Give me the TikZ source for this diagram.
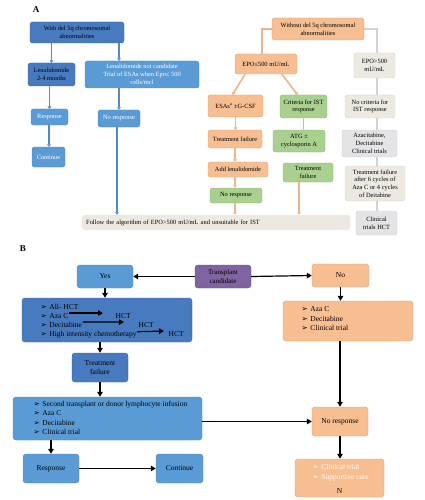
\documentclass[tikz,border=0pt]{standalone}
\usepackage{fontspec}
\setmainfont{Liberation Serif}
\newfontfamily\symfont{DejaVu Sans}
\usetikzlibrary{arrows.meta}

\definecolor{darkblue}{RGB}{72,122,192}
\definecolor{lightblue}{RGB}{91,155,213}
\definecolor{peach}{RGB}{247,190,146}
\definecolor{leafgreen}{RGB}{169,208,142}
\definecolor{lightgrey}{RGB}{228,228,230}
\definecolor{beige}{RGB}{236,234,224}
\definecolor{candviolet}{RGB}{128,100,162}

\newcommand{\bul}{{\symfont\char"27A2}\hspace{2.5pt}}

\begin{document}
\begin{tikzpicture}[x=1pt, y=-1pt,
  abox/.style={rounded corners=2.5pt, align=center, inner sep=1pt, line width=0.4pt,
    font=\fontsize{6.4}{7.8}\selectfont},
  bbox/.style={rounded corners=3pt, align=center, inner sep=1pt, line width=0.4pt,
    font=\fontsize{7.5}{9.3}\selectfont},
  dblue/.style={fill=darkblue, draw=darkblue!80!black},
  lblue/.style={fill=lightblue, draw=lightblue!85!black},
  orng/.style={fill=peach, draw=peach!85!black},
  grn/.style={fill=leafgreen, draw=leafgreen!85!black},
  gry/.style={fill=lightgrey, draw=lightgrey!90!black},
  bge/.style={fill=beige, draw=beige!92!black},
  purp/.style={fill=candviolet, draw=candviolet!80!black},
  item/.style={anchor=base west, inner sep=0.5pt, font=\fontsize{7.5}{9.3}\selectfont},
  blueline/.style={draw=lightblue!90!black, line width=1.6pt, -{Triangle[length=2.5pt,width=4pt]}},
  orangeline/.style={draw=peach!95!black, line width=1.6pt, -{Triangle[length=2.5pt,width=4pt]}},
  greyline/.style={draw=lightgrey!92!black, line width=1.6pt},
  barrow/.style={line width=1.2pt, -{Triangle[length=5pt,width=5.5pt]}}]

\useasboundingbox (0,0) rectangle (424,500);

\node[font=\bfseries\fontsize{9}{10}\selectfont] (lbla) at (36,10) {A};

\node[abox, dblue, minimum width=94pt, minimum height=21pt] (del5q) at (77,32.5) {With del 5q chromosomal\\abnormalities};
\node[abox, dblue, minimum width=47pt, minimum height=23pt] (lena) at (51.5,74.5) {Lenalidomide\\2-4 months};
\node[abox, lblue, text=white, minimum width=114pt, minimum height=27pt] (lenanot) at (142,74.5) {Lenalidomide not candidate\\Trial of ESAs when Epo≤ 500\\cells/mcl};
\node[abox, lblue, text=white, minimum width=37pt, minimum height=16pt] (respa) at (49.5,117) {Response};
\node[abox, lblue, text=white, minimum width=42pt, minimum height=17pt] (norespa) at (119,118.5) {No response};
\node[abox, lblue, text=white, minimum width=33pt, minimum height=20pt] (conta) at (48.5,157) {Continue};
\node[abox, bge, draw=none, anchor=west, text width=260pt, align=left, minimum height=15pt, inner sep=4pt] (follow) at (82,222.5) {Follow the algorithm of EPO>500 mU/mL and unsuitable for IST};

\node[abox, orng, minimum width=92pt, minimum height=22pt] (wodel) at (318,29) {Without del 5q chromosomal\\abnormalities};
\node[abox, orng, minimum width=62pt, minimum height=20pt] (epole) at (266,64) {EPO≤500 mU/mL};
\node[abox, bge, minimum width=41pt, minimum height=25pt] (epogt) at (374.5,65.5) {EPO>500\\mU/mL};
\node[abox, orng, minimum width=55pt, minimum height=22pt] (esas) at (235.5,106) {ESAs\textsuperscript{a} ±G-CSF};
\node[abox, grn, minimum width=47pt, minimum height=23pt] (crit) at (303.5,106.5) {Criteria for IST\\response};
\node[abox, bge, minimum width=50pt, minimum height=23pt] (nocrit) at (370,106.5) {No criteria for\\IST response};
\node[abox, orng, minimum width=54pt, minimum height=18pt] (tfo) at (235,139) {Treatment failure};
\node[abox, orng, minimum width=60pt, minimum height=15pt] (addlen) at (238,169.5) {Add lenalidomide};
\node[abox, grn, minimum width=52pt, minimum height=15pt] (nroa) at (236,195.5) {No response};
\node[abox, grn, minimum width=52pt, minimum height=22pt] (atg) at (299,141) {ATG ±\\cyclosporin A};
\node[abox, grn, minimum width=50pt, minimum height=19pt] (tfg) at (308,172.5) {Treatment\\failure};
\node[abox, gry, minimum width=55pt, minimum height=27pt] (azac) at (369.5,143.5) {Azacitabine,\\Decitabine\\Clinical trials};
\node[abox, bge, minimum width=60pt, minimum height=35pt] (tfaza) at (375,183.5) {Treatment failure\\after 6 cycles of\\Aza C or 4 cycles\\of Deitabine};
\node[abox, gry, minimum width=41pt, minimum height=24pt] (clinhct) at (376.5,223) {Clinical\\trials HCT};

\draw[blueline] (lena.north |- del5q.south) -- (lena.north);
\draw[blueline] (norespa.north |- del5q.south) -- (norespa.north |- lenanot.north);
\draw[blueline] ([xshift=-2pt]lena.south) -- ([xshift=-2pt]lena.south |- respa.north);
\draw[blueline] ([xshift=-0.5pt]respa.south) -- ([xshift=-0.5pt]respa.south |- conta.north);
\draw[blueline] (norespa.north |- lenanot.south) -- (norespa.north);
\draw[blueline] ([xshift=-2pt]norespa.south) -- ([xshift=-2pt]norespa.south |- follow.north);

\draw[orangeline, -] (wodel.west) -| ([xshift=-4pt]epole.north);
\draw[greyline] (wodel.east) -| ([xshift=2.5pt]epogt.north);
\draw[orangeline] ([xshift=-21pt]epole.south) -- ([xshift=-3pt]esas.north);
\draw[orangeline] ([xshift=16pt]epole.south) -- ([xshift=-6pt]crit.north);
\draw[orangeline] (esas.south) -- (esas.south |- tfo.north);
\draw[orangeline] (tfo.south) -- (tfo.south |- addlen.north);
\draw[orangeline] (tfo.south |- addlen.south) -- (tfo.south |- nroa.north);
\draw[orangeline] (tfo.south |- nroa.south) -- (tfo.south |- follow.north);
\draw[orangeline, -] (crit.south) -- (crit.south |- atg.north);
\draw[orangeline] ([xshift=-9pt]tfg.south) -- ([xshift=-9pt]tfg.south |- follow.north);
\draw[greyline] ([xshift=2.5pt]epogt.south) -- ([xshift=2.5pt]epogt.south |- nocrit.north);
\draw[greyline] ([xshift=7pt]nocrit.south) -- ([xshift=7pt]nocrit.south |- azac.north);
\draw[greyline] ([xshift=7pt]nocrit.south |- azac.south) -- ([xshift=7pt]nocrit.south |- tfaza.north);
\draw[greyline] ([xshift=7pt]nocrit.south |- tfaza.south) -- ([xshift=7pt]nocrit.south |- clinhct.north);

\node[font=\bfseries\fontsize{9}{10}\selectfont] (lblb) at (23,249) {B};

\node[bbox, lblue, minimum width=56pt, minimum height=23pt] (yes) at (105,276.5) {Yes};
\node[bbox, purp, minimum width=56pt, minimum height=23pt, font=\fontsize{7}{8.6}\selectfont] (trans) at (223,276.5) {Transplant\\candidate};
\node[bbox, orng, minimum width=57pt, minimum height=23pt] (no) at (340.5,275.5) {No};
\node[bbox, dblue, minimum width=170pt, minimum height=44pt] (yeslist) at (107,320) {};
\node[bbox, dblue, minimum width=56pt, minimum height=29pt] (tfb) at (100,367.5) {Treatment\\failure};
\node[bbox, lblue, minimum width=189pt, minimum height=43pt] (second) at (107.5,418.5) {};
\node[bbox, lblue, minimum width=56pt, minimum height=29pt] (respb) at (51,468.5) {Response};
\node[bbox, lblue, minimum width=47pt, minimum height=29pt] (contb) at (179.5,468.5) {Continue};
\node[bbox, orng, minimum width=130pt, minimum height=40pt] (nolist) at (348,321) {};
\node[bbox, orng, minimum width=56pt, minimum height=29pt] (noresp) at (340,421.5) {No response};
\node[bbox, orng, minimum width=89pt, minimum height=38pt] (last) at (339.5,478) {};

\node[item] (allhct) at (40,309) {\bul All- HCT};
\node[item] (azab) at (40,318) {\bul Aza C};
\node[item] (decib) at (40,327) {\bul Decitabine};
\node[item] (chemo) at (40,336) {\bul High intensity chemotherapy};
\node[item] (hcta) at (115,318) {HCT};
\node[item] (hctb) at (138,327) {HCT};
\node[item] (hctc) at (168,336) {HCT};

\node[item] (dli) at (33,406) {\bul Second transplant or donor lymphocyte infusion};
\node[item] (azas) at (33,415) {\bul Aza C};
\node[item] (decis) at (33,425) {\bul Decitabine};
\node[item] (clins) at (33,434) {\bul Clinical trial};

\node[item] (azan) at (301,311) {\bul Aza C};
\node[item] (decin) at (301,321) {\bul Decitabine};
\node[item] (clinn) at (301,330) {\bul Clinical trial};

\node[item, text=white] (clinl) at (312,469) {\bul Clinical trial};
\node[item, text=white] (suppl) at (312,479) {\bul Supportive care};
\node[font=\fontsize{7.5}{9}\selectfont] (nlast) at (339.5,491) {N};

\draw[barrow] ([yshift=2.5pt]azab.east) -- ([xshift=-12pt,yshift=2.5pt]hcta.west);
\draw[barrow] ([yshift=2.5pt]decib.east) -- ([xshift=-14pt,yshift=2.5pt]hctb.west);
\draw[barrow] ([yshift=2.5pt]chemo.east) -- ([xshift=-4pt,yshift=2.5pt]hctc.west);

\draw[barrow] (trans.west) -- (yes.east);
\draw[barrow] (trans.east) -- (no.west);
\draw[barrow] (yes.south) -- (yes.south |- yeslist.north);
\draw[barrow] (tfb.north |- yeslist.south) -- (tfb.north);
\draw[barrow] (tfb.south) -- (tfb.south |- second.north);
\draw[barrow] (respb.north |- second.south) -- (respb.north);
\draw[barrow] (respb.east) -- (contb.west);
\draw[barrow] (second.east |- noresp.west) -- (noresp.west);
\draw[barrow] (no.south) -- (no.south |- nolist.north);
\draw[barrow] (noresp.north |- nolist.south) -- (noresp.north);
\draw[barrow] (noresp.south) -- (noresp.south |- last.north);

\end{tikzpicture}
\end{document}
